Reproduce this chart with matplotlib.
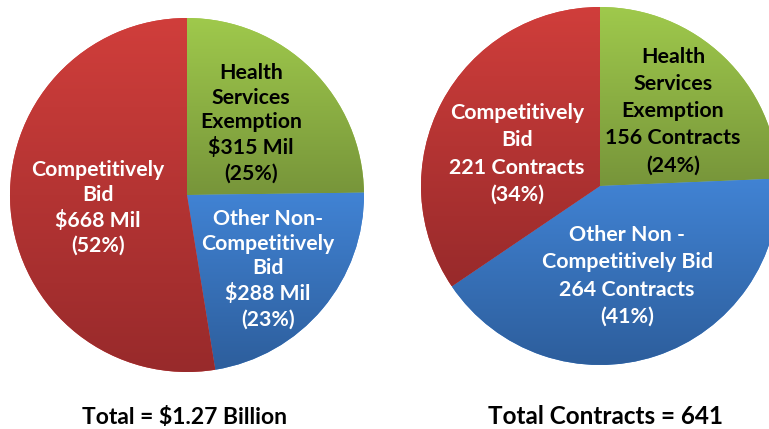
import numpy as np
import matplotlib
matplotlib.use("Agg")
from matplotlib import pyplot as plt
from matplotlib.colors import to_rgb

# Pie data: order is Health Services Exemption, Other Non-Competitive, Competitively Bid
dollar_values = [315, 288, 668]          # $ million
dollar_pcts = ["25%", "23%", "52%"]
dollar_names = ["Health\nServices\nExemption", "Other Non-\nCompetitively\nBid", "Competitively\nBid"]
dollar_total = "Total = $1.27 Billion"

contract_values = [156, 264, 221]
contract_pcts = ["24%", "41%", "34%"]
contract_names = ["Health\nServices\nExemption", "Other Non -\nCompetitively Bid", "Competitively\nBid"]
contract_total = "Total Contracts = 641"

# (top, bottom) colours of the shaded wedges
shades = [("#9fc94c", "#77953a"), ("#4183d4", "#2d5e9c"), ("#d03e3b", "#982a2b")]
text_colors = ["black", "white", "white"]

W, H = 769, 429
plt.rcParams['font.family'] = ['Lato', 'DejaVu Sans']
fig = plt.figure(figsize=(W / 100, H / 100), dpi=100)
ax = fig.add_axes([0, 0, 1, 1])


def shaded_pie(values, center, radius):
    wedges, _ = ax.pie(values, center=center, radius=radius, startangle=90,
                       counterclock=False, colors=[s[0] for s in shades],
                       wedgeprops=dict(linewidth=0))
    for w, (c1, c2) in zip(wedges, shades):
        bb = w.get_path().get_extents(w.get_patch_transform())
        t = np.linspace(0, 1, 200)[:, None]
        grad = (1 - t) * np.array(to_rgb(c1)) + t * np.array(to_rgb(c2))
        grad = grad[:, None, :]
        im = ax.imshow(grad, extent=(bb.x0, bb.x1, bb.y0, bb.y1), origin="upper",
                       aspect="auto", zorder=2, interpolation="bilinear")
        im.set_clip_path(w)
    return wedges


shaded_pie(dollar_values, (187, H - 195), 177)
shaded_pie(contract_values, (600, H - 186), 179)

ax.set_xlim(0, W)
ax.set_ylim(0, H)
ax.set_aspect("auto")
ax.axis("off")

# label centres in pixels (x, y from top)
left_pos = [(251, 123), (268, 269), (98, 208)]
right_pos = [(673, 111), (627, 276), (517, 154)]

for name, v, p, (x, y), c in zip(dollar_names, dollar_values, dollar_pcts, left_pos, text_colors):
    ax.text(x, H - y, f"{name}\n${v} Mil\n({p})", ha="center", va="center",
            fontsize=15.3, fontweight="bold", color=c, zorder=5, linespacing=1.3)

for name, v, p, (x, y), c in zip(contract_names, contract_values, contract_pcts, right_pos, text_colors):
    ax.text(x, H - y, f"{name}\n{v} Contracts\n({p})", ha="center", va="center",
            fontsize=15.4, fontweight="bold", color=c, zorder=5, linespacing=1.45)

ax.text(185, H - 418, dollar_total, ha="center", va="center", fontsize=16.5,
        fontweight="bold", color="black")
ax.text(606, H - 416, contract_total, ha="center", va="center", fontsize=17.5,
        fontweight="bold", color="black")

fig.savefig("out.png", dpi=100)
